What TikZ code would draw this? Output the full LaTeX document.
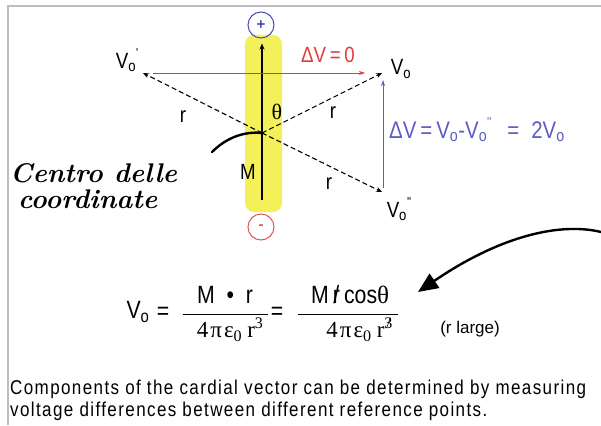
\documentclass[tikz,border=0pt]{standalone}
\usepackage{amsmath}
\usepackage{fontspec}
\setsansfont{Liberation Sans}
\newfontfamily\cond{Liberation Sans}[FakeStretch=0.85]
\newfontfamily\condcap{Liberation Sans}[FakeStretch=0.85,LetterSpace=7]
\newfontfamily\serifg{Liberation Serif}
\usetikzlibrary{arrows.meta,calc}
\definecolor{hlyellow}{HTML}{F4F05A}
\definecolor{plusblue}{HTML}{4A4AB8}
\definecolor{minusred}{HTML}{E05555}
\definecolor{dvred}{HTML}{E23A3A}
\definecolor{dvblue}{HTML}{5C5CC4}
\definecolor{framegray}{HTML}{BDBDBD}
\newcommand\strk[1]{\ooalign{#1\cr\hidewidth/\hidewidth}}
\newcommand\pp[1]{\raisebox{0.9ex}{\fontsize{13}{13}\selectfont#1}}
\newcommand\denom[1]{\text{\serifg\fontsize{23}{26}\selectfont 4\hspace{2pt}π\hspace{2pt}ε\textsubscript{0}\hspace{5pt}r\textsuperscript{#1}}}
\tikzset{
  lab/.style={font=\cond\fontsize{22}{24}\selectfont,inner sep=0pt},
  pole/.style={circle,draw,line width=1pt,minimum size=26pt,inner sep=0pt,font=\sffamily\bfseries\fontsize{15}{15}\selectfont},
  darr/.style={-{Stealth[length=6pt,width=5pt]},dashed,dash pattern=on 5pt off 3pt,line width=1.1pt},
  marr/.style={-{Stealth[length=6pt,width=5pt]},line width=1.2pt},
  rarr/.style={-{Stealth[length=6pt,width=4pt]},line width=0.9pt,draw=dvred},
  barr/.style={-{Stealth[length=6pt,width=4pt]},line width=0.9pt,draw=dvblue},
  hand/.style={line width=2.4pt,line cap=round},
  handtxt/.style={font=\rmfamily\itshape\bfseries\fontsize{27}{28}\selectfont,inner sep=0pt,anchor=west},
  frm/.style={font=\cond\fontsize{25}{28}\selectfont,inner sep=0pt},
  captxt/.style={font=\condcap\fontsize{20}{22}\selectfont,inner sep=0pt,anchor=west},
}
\begin{document}
\begin{tikzpicture}[x=1pt,y=-1pt]
  \useasboundingbox (0,0) rectangle (601,425);
  \draw[framegray,line width=1.2pt] (8,425) -- (8,6) -- (601,6);
  % dipole
  \fill[hlyellow,rounded corners=9pt] (245,35) rectangle (282,212);
  \node[pole,draw=plusblue,text=plusblue] (plus) at (261,25) {+};
  \node[pole,draw=minusred,text=minusred] (minus) at (261,227) {-};
  \draw[marr] ($(minus.north)+(1,-14)$) -- ($(plus.south)+(1,5)$);
  \coordinate (O) at (262,133);
  \coordinate (tp) at (143,73);
  \coordinate (to) at (382,73);
  \coordinate (tpp) at (382,192);
  \foreach \t in {tp,to,tpp} \draw[darr] (O) -- (\t);
  \node[lab] (vp) at (127,60) {V\textsubscript{o}\pp{'}};
  \node[lab] (vo) at (401,69) {V\textsubscript{o}};
  \node[lab] (vpp) at (399,209) {V\textsubscript{o}\pp{''}};
  \node[lab] (r1) at (183,117) {r};
  \node[lab] (r2) at (333,113) {r};
  \node[lab] (r3) at (329,184) {r};
  \node[lab,font=\serifg\fontsize{22}{24}\selectfont] (th) at (277,112) {θ};
  \node[lab] (mm) at (248,172) {M};
  % potential differences
  \draw[rarr] ($(tp)+(10,0)$) -- ($(to)+(-17,0)$);
  \node[lab,text=dvred] (dv0) at (328,55) {ΔV\,=\,0};
  \draw[barr] ($(tpp)+(1,-4)$) -- ($(to)+(1,7)$);
  \node[lab,font=\cond\fontsize{24}{26}\selectfont,text=dvblue,anchor=west] (dv2) at (389,130) {ΔV\,=\,V\textsubscript{o}-V\textsubscript{o}\pp{''}\hspace{16pt}=\hspace{12pt}2V\textsubscript{o}};
  % handwriting
  \coordinate (cc) at (212,152);
  \draw[hand] (cc) .. controls (226,138) and (244,131) .. (O);
  \node[handtxt] (centro) at (10,173) {Centro delle};
  \node[handtxt] (coord) at (18,199) {coordinate};
  % formula
  \node[frm] (vsym) at (138,312) {V\textsubscript{o}};
  \node[frm] (eq1) at (163,313) {=};
  \node[frm] (frac1) at (225,314) {$\dfrac{\makebox[85pt]{M\ \ •\ \ r}}{\makebox[85pt][r]{\denom{3}\hspace{4pt}}}$};
  \node[frm] (eq2) at (277,313) {=};
  \node[frm] (frac2) at (348,314) {$\dfrac{\makebox[100pt][l]{\hspace{13pt}M\,\strk{r}\,cos{\serifg θ}}}{\makebox[100pt][r]{\denom{\strk{3}}\hspace{5pt}}}$};
  \node[font=\sffamily\fontsize{17}{18}\selectfont,inner sep=0pt] (rl) at (470,329) {(r large)};
  \coordinate (hs) at (601,232);
  \coordinate (ht) at (418,292);
  \draw[hand,-{Triangle[length=20pt,width=17pt]}] (hs) .. controls (560,222) and (500,236) .. (ht);
  % caption
  \node[captxt] (cap1) at (10,389) {Components of the cardial vector can be determined by measuring};
  \node[captxt] (cap2) at (10,411) {voltage differences between different reference points.};
\end{tikzpicture}
\end{document}
